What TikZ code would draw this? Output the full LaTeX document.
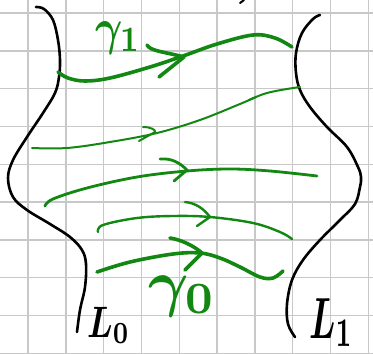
\documentclass[tikz,border=0pt]{standalone}
\usepackage{xcolor}
\usepackage{graphicx}
\definecolor{penGreen}{RGB}{18,136,18}
\definecolor{gridGrey}{RGB}{200,200,200}
\tikzset{
  gridline/.style={gridGrey, line width=1.4pt},
  blackpen/.style={black, line width=2.6pt, line cap=round, line join=round},
  thickpen/.style={penGreen, line width=3.6pt, line cap=round, line join=round},
  midpen/.style={penGreen, line width=2.8pt, line cap=round, line join=round},
  thinpen/.style={penGreen, line width=2pt, line cap=round, line join=round},
  lbl/.style={inner sep=0pt, anchor=base west},
}
\begin{document}
\begin{tikzpicture}[x=1pt, y=-1pt]
\useasboundingbox (0,0) rectangle (373,354);
\fill[white] (0,0) rectangle (373,354);
% grid
\foreach \k in {0,...,9} {
  \draw[gridline] ({28+37.8*\k},0) -- ({28+37.8*\k},354);
  \draw[gridline] (0,{13+37.8*\k}) -- (373,{13+37.8*\k});
}
% L0 curve
\draw[blackpen] plot[smooth, tension=0.6] coordinates {
  (36,7) (44,9) (53,20) (58,40) (60,60) (59,77) (55,93) (43,113) (27,137)
  (13,160) (8,178) (13,197) (27,210) (50,224) (70,237) (82,250) (86,264)
  (85,287) (80,310) (77,332)};
% L1 curve
\draw[blackpen] plot[smooth, tension=0.6] coordinates {
  (320,15) (313,19) (302,33) (296,53) (296,73) (300,90) (310,107) (327,127)
  (347,147) (358,167) (361,177) (360,187) (355,204) (340,220) (320,240)
  (303,260) (292,280) (287,304) (288,324) (295,337)};
% small mark at top
\draw[black, line width=2pt, line cap=round] (240,3) -- (244,0);
% gamma_1 curve
\draw[thickpen] plot[smooth, tension=0.6] coordinates {
  (58,72) (68,78) (85,81) (110,78) (150,67) (183,56) (217,44) (253,35) (275,38) (292,47)};
\draw[thickpen] (147,45) .. controls (150,51) and (165,52) .. (184,57) -- (159,77);
% curve 2
\draw[thinpen] plot[smooth, tension=0.6] coordinates {
  (32,148) (67,148) (110,142) (157,133) (200,120) (240,104) (267,93) (300,87)};
\draw[thinpen] (143,127) .. controls (151,127) and (156,130) .. (155,132) -- (139,141);
\draw[thinpen] (249,100) -- (256,97);
% curve 3
\draw[midpen] plot[smooth, tension=0.6] coordinates {
  (45,206) (53,199) (87,188) (137,177) (187,171) (230,169) (270,171) (317,176)};
\draw[midpen] (160,159) .. controls (172,158) and (180,163) .. (187,170) -- (174,181);
% curve 4
\draw[thinpen, line width=2.4pt] plot[smooth, tension=0.6] coordinates {
  (98,232) (103,225) (137,218) (173,216) (210,217) (253,223) (280,232) (292,239)};
\draw[thinpen, line width=2.4pt] (185,202) .. controls (196,203) and (204,209) .. (210,217) -- (197,226);
% gamma_0 curve
\draw[thickpen] plot[smooth, tension=0.6] coordinates {
  (97,272) (130,262) (173,254) (200,253) (220,258) (240,267) (260,277) (273,278) (283,271)};
\draw[thickpen] (170,238) .. controls (182,240) and (194,246) .. (202,253) -- (185,270);
% labels
\node[lbl, penGreen] (g1) at (95,44) {\scalebox{4.2}[5.1]{\boldmath$\gamma_1$}};
\node[lbl, penGreen] (g0) at (148,304) {\scalebox{6.2}[6.4]{\boldmath$\gamma_0$}};
\node[lbl] (l0) at (87,337) {\scalebox{3.4}[4.4]{\boldmath$L_0$}};
\node[lbl] (l1) at (309,338) {\scalebox{3.5}[5.8]{\boldmath$L_1$}};
\end{tikzpicture}
\end{document}
